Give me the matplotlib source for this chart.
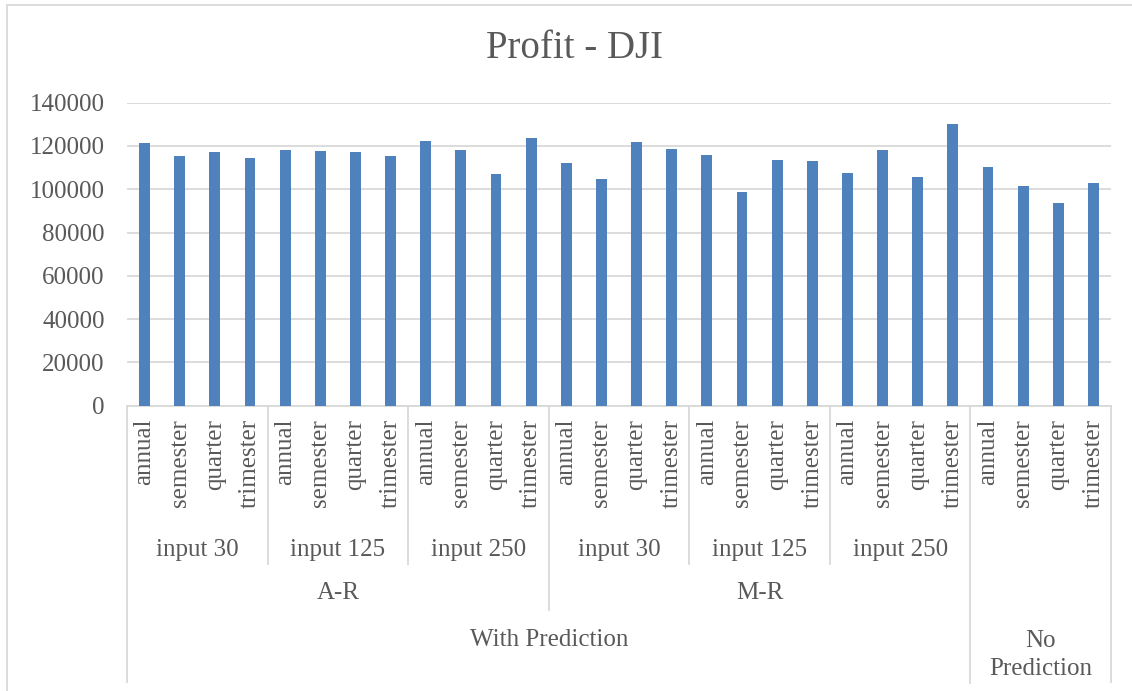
import numpy as np
import matplotlib
matplotlib.use('Agg')
import matplotlib.pyplot as plt
from matplotlib.patches import Rectangle

# data
methods = ['annual', 'semester', 'quarter', 'trimester']
inputs = ['input 30', 'input 125', 'input 250']
models = ['A-R', 'M-R']
ar_profit = [121200, 115200, 117400, 114600, 118000, 117700, 117400, 115500,
             122300, 118300, 106900, 123500]
mr_profit = [112000, 104700, 121700, 118600, 115900, 98600, 113500, 113100,
             107300, 118300, 105700, 130100]
no_pred_profit = [110300, 101700, 93500, 102900]
yticks = [0, 20000, 40000, 60000, 80000, 100000, 120000, 140000]

profit = ar_profit + mr_profit + no_pred_profit
labels = methods * 7
x = np.arange(len(profit))

plt.rcParams['font.family'] = ['Liberation Serif', 'DejaVu Serif']
txt = '#595959'
grid = '#D9D9D9'
fs = 18

fig = plt.figure(figsize=(11.32, 6.91), dpi=100)
W, H = 1132, 691
ax_left, ax_right, ax_top, ax_bot = 127, 1111, 102.7, 405.8
ax = fig.add_axes([ax_left / W, 1 - ax_bot / H, (ax_right - ax_left) / W, (ax_bot - ax_top) / H])

ax.bar(x, profit, width=0.31, color='#4F81BD', zorder=3)
ax.set_xlim(-0.5, len(profit) - 0.5)
ax.set_ylim(0, 140000)
ax.set_yticks(yticks)
ax.set_yticklabels([str(v) for v in yticks], fontsize=fs, color=txt)
ax.tick_params(axis='y', length=0, pad=16)
ax.set_xticks([])
ax.grid(axis='y', color=grid, linewidth=1.3, zorder=0)
for s in ['top', 'right', 'left']:
    ax.spines[s].set_visible(False)
ax.spines['bottom'].set_color(grid)
ax.spines['bottom'].set_linewidth(1.3)

ah = ax_bot - ax_top
def ay(py):
    return (ax_bot - py) / ah

tr = ax.get_xaxis_transform()

# level 1: method names, rotated
for xi, lab in zip(x, labels):
    ax.text(xi, ay(419), lab, rotation=90, ha='center', va='top', fontsize=fs,
            color=txt, transform=tr, clip_on=False)

# level 2: input sizes
for m in range(2):
    for i, lab in enumerate(inputs):
        c = m * 12 + i * 4 + 1.5
        ax.text(c, ay(550), lab, ha='center', va='center', fontsize=fs, color=txt,
                transform=tr, clip_on=False)

# level 3: model
for m, lab in enumerate(models):
    ax.text(m * 12 + 5.5, ay(593), lab, ha='center', va='center', fontsize=fs,
            color=txt, transform=tr, clip_on=False)

# level 4
ax.text(11.5, ay(640), 'With Prediction', ha='center', va='center', fontsize=fs,
        color=txt, transform=tr, clip_on=False)
ax.text(25.5, ay(655), 'No\nPrediction', ha='center', va='center', fontsize=fs,
        color=txt, transform=tr, clip_on=False, linespacing=1.35)

# separator lines
def vline(xb, py_end):
    ax.plot([xb, xb], [0, ay(py_end)], color=grid, lw=1.3, transform=tr, clip_on=False)

for xb in [3.5, 7.5, 15.5, 19.5]:
    vline(xb, 564)
vline(11.5, 610)
vline(23.5, 683)
vline(-0.5, 682)
vline(27.5, 682)

fig.text(575 / W, 1 - 48 / H, 'Profit - DJI', ha='center', va='center', fontsize=28, color=txt)

fig.patches.append(Rectangle((7 / W, -0.1), 1.2, 1.1 - 5 / H, transform=fig.transFigure,
                             fill=False, edgecolor=grid, lw=1.3))

fig.savefig('out.png', dpi=100, facecolor='white')
